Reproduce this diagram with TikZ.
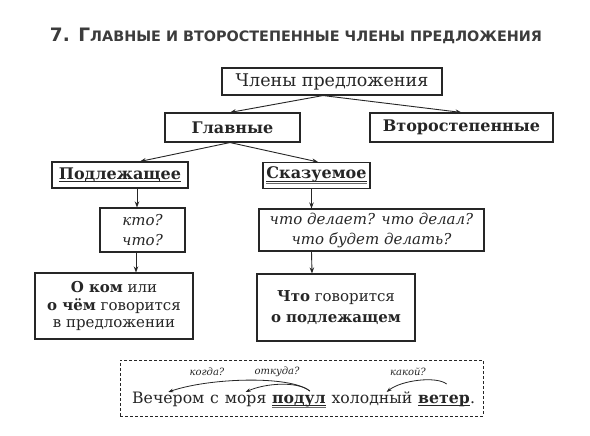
\documentclass[tikz,border=0pt]{standalone}
\usepackage{fontspec}
\usepackage{graphicx}
\setmainfont{DejaVu Serif}
\setsansfont{DejaVu Sans}
\usetikzlibrary{arrows.meta,calc}
\definecolor{ink}{RGB}{38,38,38}
\definecolor{ulgray}{RGB}{105,105,105}
\definecolor{titlegray}{RGB}{60,60,60}
\newcommand\ulA[1]{\setbox0\hbox{#1}\rlap{\rule[-2.6pt]{\wd0}{0.9pt}}\box0}
\newcommand\ulB[1]{\setbox0\hbox{#1}\rlap{\rule[-2.6pt]{\wd0}{0.9pt}}\rlap{\color{ulgray}\rule[-5.0pt]{\wd0}{1.0pt}}\box0}
\begin{document}
\begin{tikzpicture}[x=1pt,y=-1pt,
  box/.style={draw=ink, line width=1.1pt, inner sep=0pt, align=center, text=ink},
  bigtxt/.style={font=\fontsize{17.5}{20}\selectfont},
  boldtxt/.style={font=\fontsize{16}{20}\selectfont\bfseries},
  itxt/.style={font=\fontsize{15}{20}\selectfont\itshape},
  mtxt/.style={font=\fontsize{15}{17.5}\selectfont},
  arr/.style={draw=ink, line width=0.9pt, -{Stealth[length=6pt,width=4.5pt]}},
  arc/.style={draw=ink, line width=0.8pt, -{Stealth[length=5pt,width=3.5pt]}},
  word/.style={inner sep=0pt, anchor=base west, text=ink, font=\fontsize{15.7}{18}\selectfont},
  lbl/.style={inner sep=0pt, text=ink, font=\fontsize{10}{12}\selectfont\itshape},
  dashbox/.style={draw=ink, line width=0.9pt, dash pattern=on 3pt off 2pt, inner sep=0pt}
]
\useasboundingbox (0,0) rectangle (590,436);
\fill[white] (0,0) rectangle (590,436);

% title
\node[inner sep=0pt, text=titlegray] (title) at (296,36)
  {\resizebox{492pt}{!}{\sffamily\bfseries\fontsize{18}{20}\selectfont 7. Г\fontsize{14}{16}\selectfont ЛАВНЫЕ И ВТОРОСТЕПЕННЫЕ ЧЛЕНЫ ПРЕДЛОЖЕНИЯ}};

% boxes
\node[box, bigtxt, minimum width=220pt, minimum height=27pt] (n0) at (332,81.5) {Члены предложения};
\node[box, boldtxt, minimum width=135pt, minimum height=29pt] (glav) at (232.5,127.5) {Главные};
\node[box, boldtxt, minimum width=183pt, minimum height=29pt] (vtor) at (461.5,127.5) {Второстепенные};
\node[box, boldtxt, minimum width=136pt, minimum height=26pt] (pod) at (120,175) {\ulA{Подлежащее}};
\node[box, boldtxt, minimum width=107pt, minimum height=26pt] (skaz) at (316.5,175.5) {\ulB{Сказуемое}};
\node[box, itxt, minimum width=85pt, minimum height=44pt] (kto) at (142.5,230) {кто?\\что?};
\node[box, itxt, minimum width=225pt, minimum height=42pt] (chto) at (371.5,230) {что делает? что делал?\\что будет делать?};
\node[box, mtxt, minimum width=158pt, minimum height=66pt] (okom) at (114,306)
  {{\bfseries О ком} или\\{\bfseries о чём} говорится\\в предложении};
\node[box, font=\fontsize{15}{21}\selectfont, minimum width=158pt, minimum height=67pt] (chtog) at (336,307.5)
  {{\bfseries Что} говорится\\{\bfseries о подлежащем}};

% connectors
\draw[arr] ([xshift=-9pt]n0.south) -- ([xshift=-2.5pt]glav.north);
\draw[arr] ([xshift=-9pt]n0.south) -- (vtor.north);
\draw[arr] ([xshift=-2.5pt]glav.south) -- ([xshift=20pt]pod.north);
\draw[arr] ([xshift=-2.5pt]glav.south) -- ([xshift=1.5pt]skaz.north);
\draw[arr] ([xshift=17pt]pod.south) -- ([xshift=-5.5pt]kto.north);
\draw[arr] ([xshift=-6.5pt]kto.south) -- ([xshift=22pt]okom.north);
\draw[arr] ([xshift=-5pt]skaz.south) -- ([xshift=-60pt]chto.north);
\draw[arr] ([xshift=-60pt]chto.south) -- ([xshift=-24pt]chtog.north);

% example sentence
\node[dashbox, minimum width=363pt, minimum height=56pt] (frame) at (301.5,388) {};
\node[word] (w1) at (132,403) {Вечером};
\node[word] (w2) at ([xshift=5.4pt]w1.base east) {с};
\node[word] (w3) at ([xshift=5.4pt]w2.base east) {моря};
\node[word] (w4) at ([xshift=5.4pt]w3.base east) {\bfseries\ulB{подул}};
\node[word] (w5) at ([xshift=5.4pt]w4.base east) {холодный};
\node[word] (w6) at ([xshift=5.4pt]w5.base east) {\bfseries\ulA{ветер}};
\node[word] (w7) at (w6.base east) {.};

\node[lbl] (q1) at (207,372) {когда?};
\node[lbl] (q2) at (277,372) {откуда?};
\node[lbl] (q3) at (408,372) {какой?};

\coordinate (s1) at ([yshift=12pt]$(w4.base west)!0.7!(w4.base east)$);
\coordinate (e1) at ([yshift=11pt]w1.base);
\coordinate (e2) at ([yshift=11pt]w3.base);
\coordinate (s3) at ([yshift=19pt]$(w6.base west)!0.55!(w6.base east)$);
\coordinate (e3) at ([yshift=11pt]$(w5.base west)!0.68!(w5.base east)$);
\draw[arc] (s1) .. controls +(-20,-16) and +(40,-14) .. (e1);
\draw[arc] (s1) .. controls +(-12,-10) and +(20,-9) .. (e2);
\draw[arc] (s3) .. controls +(-10,-8) and +(15,-12) .. (e3);
\end{tikzpicture}
\end{document}
